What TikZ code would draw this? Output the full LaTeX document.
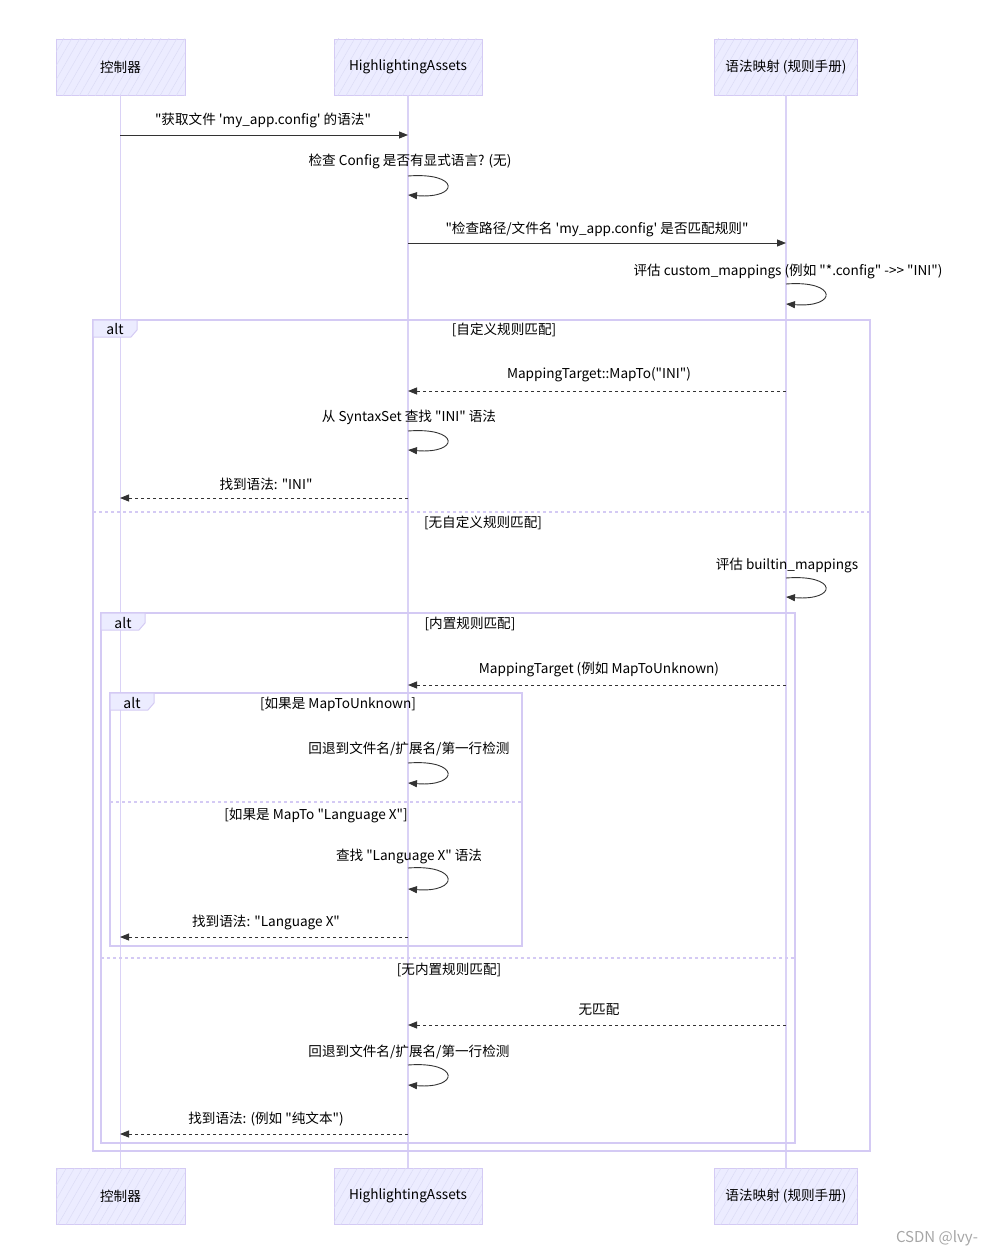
\documentclass[tikz,border=0pt]{standalone}
\usepackage{fontspec}
\setmainfont{Noto Sans CJK SC}[Ligatures=TeXOff]
\usetikzlibrary{arrows.meta,positioning,patterns.meta}
\definecolor{actorfill}{HTML}{ECECFF}
\definecolor{actorline}{HTML}{D4CAF4}
\definecolor{hatchline}{HTML}{DCDCF6}
\definecolor{lifeline}{HTML}{DAD2F6}
\definecolor{msgline}{HTML}{333333}

\begin{document}
\begin{tikzpicture}[x=1pt,y=-1pt,font=\fontsize{13.6}{16}\selectfont]
     \tikzstyle{actor_style} = [draw=actorline,fill=actorfill,minimum height=56pt,inner sep=0pt,
        postaction={pattern={Lines[angle=60,distance=7pt,line width=0.5pt]},pattern color=hatchline}]
     \tikzstyle{life_style} = [draw=lifeline,line width=1.2pt]
     \tikzstyle{msg_style} = [draw=msgline,line width=0.9pt,-{Triangle[length=9pt,width=7pt]}]
     \tikzstyle{reply_style} = [msg_style,dashed]
     \tikzstyle{loop_style} = [msg_style]
     \tikzstyle{frame_style} = [draw=actorline,line width=1.3pt]
     \tikzstyle{split_style} = [draw=actorline,line width=1.1pt,dashed]
     \tikzstyle{tag_style} = [draw=actorline,fill=actorfill,line width=1pt]
     \tikzstyle{label_style} = [inner sep=1pt,text=black]
     \useasboundingbox (0,0) rectangle (990,1255);
     % participants
     \node[actor_style,minimum width=129pt] (ctrl_top) at (120.5,67) {控制器};
     \node[actor_style,minimum width=148pt] (assets_top) at (408,67) {HighlightingAssets};
     \node[actor_style,minimum width=143pt] (map_top) at (786,67) {语法映射 (规则手册)};
     \node[actor_style,minimum width=129pt] (ctrl_bot) at (120.5,1196) {控制器};
     \node[actor_style,minimum width=148pt] (assets_bot) at (408,1196) {HighlightingAssets};
     \node[actor_style,minimum width=143pt] (map_bot) at (786,1196) {语法映射 (规则手册)};
     \draw[life_style] (ctrl_top) -- (ctrl_bot);
     \draw[life_style] (assets_top) -- (assets_bot);
     \draw[life_style] (map_top) -- (map_bot);
     % frames
     \draw[frame_style] (93,320) rectangle (870,1151);
     \draw[frame_style] (101,613) rectangle (795,1143);
     \draw[frame_style] (110,693) rectangle (522,946);
     \draw[split_style] (93,512) -- (870,512);
     \draw[split_style] (101,958) -- (795,958);
     \draw[split_style] (110,802) -- (522,802);
     \draw[tag_style] (93,320) -- (137,320) -- (137,330) -- (131,337) -- (93,337) -- cycle;
     \draw[tag_style] (101,613) -- (145,613) -- (145,623) -- (139,630) -- (101,630) -- cycle;
     \draw[tag_style] (110,693) -- (154,693) -- (154,703) -- (148,710) -- (110,710) -- cycle;
     \node[label_style,font=\fontsize{14}{16}\selectfont] (alt1) at (115,329) {alt};
     \node[label_style,font=\fontsize{14}{16}\selectfont] (alt2) at (123,623) {alt};
     \node[label_style,font=\fontsize{14}{16}\selectfont] (alt3) at (132,703) {alt};
     \node[label_style] (g1) at (504,330) {[自定义规则匹配]};
     \node[label_style] (g2) at (483,523) {[无自定义规则匹配]};
     \node[label_style] (g3) at (470,624) {[内置规则匹配]};
     \node[label_style] (g4) at (449,970) {[无内置规则匹配]};
     \node[label_style] (g5) at (338,704) {[如果是 MapToUnknown]};
     \node[label_style] (g6) at (316,815) {[如果是 MapTo "Language X"]};
     % messages
     \coordinate (m1a) at (120,135);  \coordinate (m1b) at (408,135);
     \coordinate (m2a) at (408,243);  \coordinate (m2b) at (786,243);
     \coordinate (m3a) at (786,391);  \coordinate (m3b) at (408,391);
     \coordinate (m4a) at (408,498);  \coordinate (m4b) at (120,498);
     \coordinate (m5a) at (786,685);  \coordinate (m5b) at (408,685);
     \coordinate (m6a) at (408,937);  \coordinate (m6b) at (120,937);
     \coordinate (m7a) at (786,1025); \coordinate (m7b) at (408,1025);
     \coordinate (m8a) at (408,1134); \coordinate (m8b) at (120,1134);
     \node[label_style] (t1) at (263,120) {"获取文件 'my\_app.config' 的语法"};
     \node[label_style] (t2) at (597,229) {"检查路径/文件名 'my\_app.config' 是否匹配规则"};
     \node[label_style] (t3) at (599,375) {MappingTarget::MapTo("INI")};
     \node[label_style] (t4) at (266,484) {找到语法: "INI"};
     \node[label_style] (t5) at (599,669) {MappingTarget (例如 MapToUnknown)};
     \node[label_style] (t6) at (266,922) {找到语法: "Language X"};
     \node[label_style] (t7) at (599,1010) {无匹配};
     \node[label_style] (t8) at (266,1119) {找到语法: (例如 "纯文本")};
     \draw[msg_style] (m1a) -- (m1b);
     \draw[msg_style] (m2a) -- (m2b);
     \draw[reply_style] (m3a) -- (m3b);
     \draw[reply_style] (m4a) -- (m4b);
     \draw[reply_style] (m5a) -- (m5b);
     \draw[reply_style] (m6a) -- (m6b);
     \draw[reply_style] (m7a) -- (m7b);
     \draw[reply_style] (m8a) -- (m8b);
     % self calls
     \coordinate (s1a) at (408,176);  \coordinate (s1b) at (408,195);
     \coordinate (s2a) at (786,284);  \coordinate (s2b) at (786,304);
     \coordinate (s3a) at (408,431);  \coordinate (s3b) at (408,450);
     \coordinate (s4a) at (786,578);  \coordinate (s4b) at (786,597);
     \coordinate (s5a) at (408,763);  \coordinate (s5b) at (408,783);
     \coordinate (s6a) at (408,868);  \coordinate (s6b) at (408,889);
     \coordinate (s7a) at (408,1065); \coordinate (s7b) at (408,1085);
     \node[label_style] (u1) at (410,161) {检查 Config 是否有显式语言? (无)};
     \node[label_style] (u2) at (788,271) {评估 custom\_mappings (例如 "*.config" ->> "INI")};
     \node[label_style] (u3) at (409,417) {从 SyntaxSet 查找 "INI" 语法};
     \node[label_style] (u4) at (787,565) {评估 builtin\_mappings};
     \node[label_style] (u5) at (409,749) {回退到文件名/扩展名/第一行检测};
     \node[label_style] (u6) at (409,856) {查找 "Language X" 语法};
     \node[label_style] (u7) at (409,1052) {回退到文件名/扩展名/第一行检测};
     \draw[loop_style] (s1a) .. controls +(52,-4) and +(52,4) .. (s1b);
     \draw[loop_style] (s2a) .. controls +(52,-4) and +(52,4) .. (s2b);
     \draw[loop_style] (s3a) .. controls +(52,-4) and +(52,4) .. (s3b);
     \draw[loop_style] (s4a) .. controls +(52,-4) and +(52,4) .. (s4b);
     \draw[loop_style] (s5a) .. controls +(52,-4) and +(52,4) .. (s5b);
     \draw[loop_style] (s6a) .. controls +(52,-4) and +(52,4) .. (s6b);
     \draw[loop_style] (s7a) .. controls +(52,-4) and +(52,4) .. (s7b);
     \node[text=black!35,font=\fontsize{15}{17}\selectfont] (mark) at (937,1238) {CSDN @lvy-};
\end{tikzpicture}
\end{document}
